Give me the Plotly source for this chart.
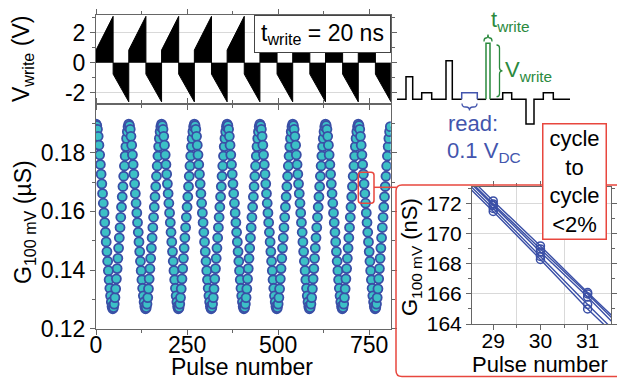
import plotly.graph_objects as go

W, H = 617, 379
FONT = "Liberation Sans, Arial, Helvetica, sans-serif"
BLUE_EDGE = "#3a4fa6"
CYAN = "#3cc0c6"
RED = "#e8473e"
GREEN = "#2b8a3e"
TXT_BLUE = "#4355ad"
AXIS = "#666666"
GRID = "#d9d9d9"

# ---------------- data ----------------
# main panel: one conductance cycle (uS), one reading every 2nd pulse
cycle_offsets = [0, 90, 180, 270, 360, 450, 540, 630, 720]
pulse_in_cycle = [0, 2, 4, 6, 8, 10, 12, 14, 16, 18, 20, 22, 24, 26, 28, 30, 32, 34, 36, 38,
                  40, 42, 44, 46, 48, 50, 52, 54, 56, 58, 60, 62, 64, 66, 68, 70, 72, 74, 76,
                  78, 80, 82, 84, 86, 88]
G_cycle_uS = [0.1898, 0.1893, 0.1880, 0.1856, 0.1826, 0.1793, 0.1760, 0.1727, 0.1694, 0.1661,
              0.1628, 0.1595, 0.1562, 0.1529, 0.1496, 0.1463, 0.1430, 0.1398, 0.1367, 0.1338,
              0.1312, 0.1291, 0.1276, 0.1268,
              0.1272, 0.1284, 0.1306, 0.1336, 0.1370, 0.1405, 0.1440, 0.1475, 0.1510, 0.1545,
              0.1580, 0.1615, 0.1650, 0.1685, 0.1720, 0.1755, 0.1789, 0.1821, 0.1849, 0.1872,
              0.1889]

# top panel: write-pulse amplitude ramps (V) per cycle
cycle_len = 90
pos_ramp_len = 47
pos_ramp_start_V = [0.85, 0.85, 0.85, 0.85, 0.85, 0.85, 0.85, 0.85, 0.85]
pos_ramp_end_V = [3.1, 3.1, 3.1, 3.1, 3.1, 3.1, 3.1, 3.1, 3.1]
neg_ramp_start_V = [-0.75, -0.75, -0.75, -0.75, -0.75, -0.75, -0.75, -0.75, -0.75]
neg_ramp_end_V = [-2.6, -2.6, -2.6, -2.6, -2.6, -2.6, -2.6, -2.6, -2.6]

# inset: several cycles around pulses 29-31 (nS)
inset_pulse = [28, 29, 30, 31, 32]
inset_G_nS = [
    [174.6, 171.5, 168.3, 165.0, 162.0],
    [174.8, 171.7, 168.5, 165.3, 162.2],
    [175.0, 171.9, 168.8, 165.8, 162.6],
    [175.1, 172.0, 169.0, 166.0, 162.9],
    [175.3, 172.2, 169.2, 166.1, 163.1],
]

x_ticks_main = [0, 250, 500, 750]
x_minor_main = [125, 375, 625]
y_ticks_main = [0.12, 0.14, 0.16, 0.18]
y_ticklabels_main = ["0.12", "0.14", "0.16", "0.18"]
y_minor_main = [0.13, 0.15, 0.17, 0.19]
y_ticks_top = [-2, 0, 2]
y_ticklabels_top = ["-2", "0", "2"]
y_minor_top = [-1, 1, 3]
x_ticks_inset = [29, 30, 31]
x_minor_inset = [29.5, 30.5]
y_ticks_inset = [164, 166, 168, 170, 172]
y_minor_inset = [165, 167, 169, 171, 173]


# ---------------- helpers ----------------
def px(x):
    return x / W


def py(y):
    return 1 - y / H


def poly_path(pts):
    s = "M %.5f %.5f" % (px(pts[0][0]), py(pts[0][1]))
    for x, y in pts[1:]:
        s += " L %.5f %.5f" % (px(x), py(y))
    return s


def rrect_path(x0, y0, x1, y1, r):
    pts = [
        ("M", (x0 + r, y0)), ("L", (x1 - r, y0)), ("Q", (x1, y0), (x1, y0 + r)),
        ("L", (x1, y1 - r)), ("Q", (x1, y1), (x1 - r, y1)), ("L", (x0 + r, y1)),
        ("Q", (x0, y1), (x0, y1 - r)), ("L", (x0, y0 + r)), ("Q", (x0, y0), (x0 + r, y0)),
    ]
    s = ""
    for item in pts:
        s += " " + item[0]
        for (x, y) in item[1:]:
            s += " %.5f %.5f" % (px(x), py(y))
    return s + " Z"


def brace_path(p0, p1, depth, normal):
    (ax, ay), (bx, by) = p0, p1
    L = ((bx - ax) ** 2 + (by - ay) ** 2) ** 0.5
    ux, uy = (bx - ax) / L, (by - ay) / L
    nx, ny = normal
    h = depth / 2.0
    r = min(h, L / 4.0)

    def P(t, n):
        return (ax + t * ux + n * nx, ay + t * uy + n * ny)

    m = L / 2.0
    segs = [
        ("M", P(0, 0)),
        ("Q", P(0, h), P(r, h)),
        ("L", P(m - r, h)),
        ("Q", P(m, h), P(m, depth)),
        ("Q", P(m, h), P(m + r, h)),
        ("L", P(L - r, h)),
        ("Q", P(L, h), P(L, 0)),
    ]
    s = ""
    for item in segs:
        s += " " + item[0]
        for (x, y) in item[1:]:
            s += " %.5f %.5f" % (px(x), py(y))
    return s


# ---------------- build series ----------------
pulse, G = [], []
for off in cycle_offsets:
    for p, g in zip(pulse_in_cycle, G_cycle_uS):
        pulse.append(off + p)
        G.append(g)

wave_x, wave_y = [], []
for k, off in enumerate(cycle_offsets):
    wave_x += [off, off, off + pos_ramp_len, off + pos_ramp_len, off + cycle_len, off + cycle_len]
    wave_y += [0, pos_ramp_start_V[k], pos_ramp_end_V[k], neg_ramp_start_V[k], neg_ramp_end_V[k], 0]

fig = go.Figure()
fig.add_trace(go.Scatter(x=wave_x, y=wave_y, mode="lines", fill="tozeroy", fillcolor="black",
                         line=dict(color="black", width=1), xaxis="x2", yaxis="y2",
                         hoverinfo="skip"))
fig.add_trace(go.Scatter(x=pulse, y=G, mode="markers",
                         marker=dict(size=9, color=CYAN, line=dict(color=BLUE_EDGE, width=1.8)),
                         xaxis="x", yaxis="y"))
for row in inset_G_nS:
    fig.add_trace(go.Scatter(x=inset_pulse, y=row, mode="lines+markers",
                             marker=dict(symbol="circle-open", size=8, color=BLUE_EDGE,
                                         line=dict(width=1.5)),
                             line=dict(color=BLUE_EDGE, width=1.4), xaxis="x3", yaxis="y3"))

tickfont_main = dict(family=FONT, size=23, color="black")
tickfont_inset = dict(family=FONT, size=21, color="black")


def ax_style(**kw):
    d = dict(showline=True, linecolor=AXIS, linewidth=1, mirror="allticks", ticks="outside",
             ticklen=5, tickcolor=AXIS, tickwidth=1, zeroline=False, showgrid=False,
             automargin=False)
    d.update(kw)
    return d


main_x_dom = [px(96), px(390.7)]
fig.update_layout(
    width=W, height=H, margin=dict(l=0, r=0, t=0, b=0, pad=0), autosize=False,
    paper_bgcolor="white", plot_bgcolor="rgba(0,0,0,0)", showlegend=False,
    font=dict(family=FONT, color="black"),
    xaxis=ax_style(domain=main_x_dom, range=[0, 809], anchor="y", tickvals=x_ticks_main,
                   tickfont=tickfont_main, ticklabelstandoff=-9,
                   minor=dict(tickvals=x_minor_main, ticks="outside", ticklen=3, tickcolor=AXIS)),
    yaxis=ax_style(domain=[py(328.7), py(103.8)], range=[0.12, 0.1967], anchor="x",
                   tickvals=y_ticks_main, ticktext=y_ticklabels_main, tickfont=tickfont_main,
                   minor=dict(tickvals=y_minor_main, ticks="outside", ticklen=3, tickcolor=AXIS)),
    xaxis2=ax_style(domain=main_x_dom, range=[0, 809], anchor="y2", tickvals=x_ticks_main,
                    showticklabels=False,
                    minor=dict(tickvals=x_minor_main, ticks="outside", ticklen=3, tickcolor=AXIS)),
    yaxis2=ax_style(domain=[py(103.8), py(15)], range=[-2.73, 3.19], anchor="x2",
                    tickvals=y_ticks_top, ticktext=y_ticklabels_top, tickfont=tickfont_main,
                    showgrid=True, gridcolor=GRID, gridwidth=1,
                    minor=dict(tickvals=y_minor_top, ticks="outside", ticklen=3, tickcolor=AXIS)),
    xaxis3=ax_style(domain=[px(472), px(611)], range=[28.55, 31.495], anchor="y3",
                    tickvals=x_ticks_inset, tickfont=tickfont_inset, ticklabelstandoff=-7,
                    minor=dict(tickvals=x_minor_inset, ticks="outside", ticklen=3, tickcolor=AXIS,
                               showgrid=True, gridcolor=GRID)),
    yaxis3=ax_style(domain=[py(324), py(187)], range=[164, 173.13], anchor="x3",
                    tickvals=y_ticks_inset, tickfont=tickfont_inset, showgrid=True,
                    gridcolor=GRID,
                    minor=dict(tickvals=y_minor_inset, ticks="outside", ticklen=3, tickcolor=AXIS)),
)

shapes = []
shapes.append(dict(type="path", xref="paper", yref="paper", path=rrect_path(358.3, 172.3, 374, 203.3, 3),
                   line=dict(color=RED, width=1.5), layer="above"))
shapes.append(dict(type="line", xref="paper", yref="paper", x0=px(374), y0=py(187.3), x1=px(396.5),
                   y1=py(187.3), line=dict(color=RED, width=1.5), layer="above"))
shapes.append(dict(type="path", xref="paper", yref="paper", path=rrect_path(396, 185, 640, 376.5, 6),
                   line=dict(color=RED, width=1.5), layer="above"))

# schematic pulse train
base = 99.3
black1 = [(397, base), (406, base), (406, 76.7), (412.7, 76.7), (412.7, base), (421.7, base),
          (421.7, 92.7), (431.7, 92.7), (431.7, base), (446, base), (446, 60.7), (452.3, 60.7),
          (452.3, base), (461.7, base)]
blue1 = [(461.7, base), (461.7, 92.7), (477.3, 92.7), (477.3, base)]
black2 = [(477.3, base), (486, base)]
green1 = [(486, base), (486, 43.3), (490, 43.3), (490, base)]
black3 = [(490, base), (502.7, base), (502.7, 92.7), (511.7, 92.7), (511.7, base), (526, base),
          (526, 124), (534, 124), (534, base), (543.3, base), (543.3, 92.7), (553.3, 92.7),
          (553.3, base), (570, base)]
for pts, col in [(black1, "black"), (black2, "black"), (black3, "black"), (blue1, TXT_BLUE),
                 (green1, GREEN)]:
    shapes.append(dict(type="path", xref="paper", yref="paper", path=poly_path(pts),
                       line=dict(color=col, width=1.5), layer="above"))

shapes.append(dict(type="path", xref="paper", yref="paper",
                   path=brace_path((462, 103.5), (477, 103.5), 7, (0, 1)),
                   line=dict(color=TXT_BLUE, width=1.3), layer="above"))
shapes.append(dict(type="path", xref="paper", yref="paper",
                   path=brace_path((484, 41.5), (492, 41.5), 7, (0, -1)),
                   line=dict(color=GREEN, width=1.3), layer="above"))
shapes.append(dict(type="path", xref="paper", yref="paper",
                   path=brace_path((496.5, 45), (496.5, 96.7), 6, (1, 0)),
                   line=dict(color=GREEN, width=1.3), layer="above"))

fig.update_layout(shapes=shapes)

ann = []


def txt(text, x, y, size=23, color="black", angle=0, xanchor="center", yanchor="middle", **kw):
    d = dict(text=text, x=px(x), y=py(y), xref="paper", yref="paper", showarrow=False,
             font=dict(family=FONT, size=size, color=color), textangle=angle,
             xanchor=xanchor, yanchor=yanchor)
    d.update(kw)
    ann.append(d)


txt("V<sub>write</sub> (V)", 23, 59, size=23, angle=-90)
txt("G<sub>100 mV</sub> (µS)", 24, 222, size=23, angle=-90)
txt("Pulse number", 241.7, 366.5, size=23)
txt("G<sub>100 mV</sub> (nS)", 411, 257, size=22, angle=-90)
txt("Pulse number", 540, 364, size=22)
txt("t<sub>write</sub> = 20 ns", 322.5, 34, size=23, bgcolor="white", bordercolor="#444444",
    borderwidth=1, borderpad=1, width=133, height=34)
txt("cycle<br>to<br>cycle<br>&lt;2%", 574, 181.3, size=22, bgcolor="white", bordercolor=RED,
    borderwidth=1.5, borderpad=1, width=60, height=112)
txt("t<sub>write</sub>", 489, 21, size=22, color=GREEN, xanchor="left")
txt("V<sub>write</sub>", 503, 71, size=22, color=GREEN, xanchor="left")
txt("read:", 446, 124, size=22, color=TXT_BLUE, xanchor="left")
txt("0.1 V<sub>DC</sub>", 445, 152, size=22, color=TXT_BLUE, xanchor="left")

fig.update_layout(annotations=ann)

fig.write_html("out.html", config={"displayModeBar": False},
               post_script="document.body.style.margin='0px';document.body.style.padding='0px';"
                           "document.body.style.overflow='hidden';")
